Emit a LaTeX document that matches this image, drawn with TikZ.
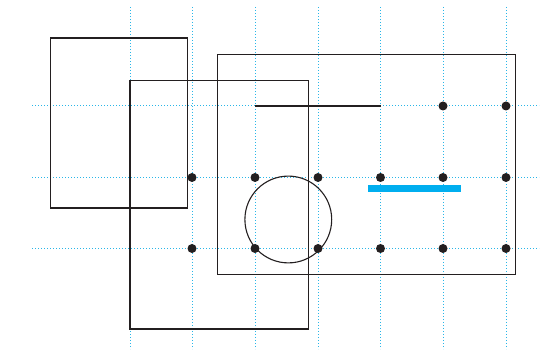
\documentclass[tikz,border=0pt]{standalone}
\definecolor{gridcyan}{HTML}{29B6E8}
\definecolor{barcyan}{HTML}{00AEEF}
\definecolor{ink}{HTML}{231F20}
\tikzset{
  gridline/.style={gridcyan, line width=1pt, dash pattern=on 1pt off 2pt},
  outline/.style={ink, line width=1.1pt},
  gdot/.style={circle, fill=ink, inner sep=0pt, minimum size=9pt},
}
\begin{document}
\begin{tikzpicture}[x=1pt,y=-1pt]
\useasboundingbox (0,0) rectangle (550,350);
% grid
\foreach \x in {130,192,255,318,380.5,443,506}
  \draw[gridline] (\x,7) -- (\x,349);
\foreach \y in {106,177.5,248.5}
  \draw[gridline] (32,\y) -- (539,\y);
% rectangles
\draw[outline] (50.7,38) rectangle (187.7,208);
\draw[outline] (130,80.3) rectangle (308.7,329);
\draw[outline] (217.7,54.3) rectangle (515.7,274.3);
% circle
\draw[outline] (288.3,219.5) circle (43.4);
% black line
\draw[outline] (255,106) -- (380.5,106);
% cyan bar
\fill[barcyan] (368,185) rectangle (460.7,191.7);
% dots
\foreach \x/\y in {443/106,506/106,
  192/177.5,255/177.5,318/177.5,380.5/177.5,443/177.5,506/177.5,
  192/248.5,255/248.5,318/248.5,380.5/248.5,443/248.5,506/248.5}
  \node[gdot] at (\x,\y) {};
\end{tikzpicture}
\end{document}
